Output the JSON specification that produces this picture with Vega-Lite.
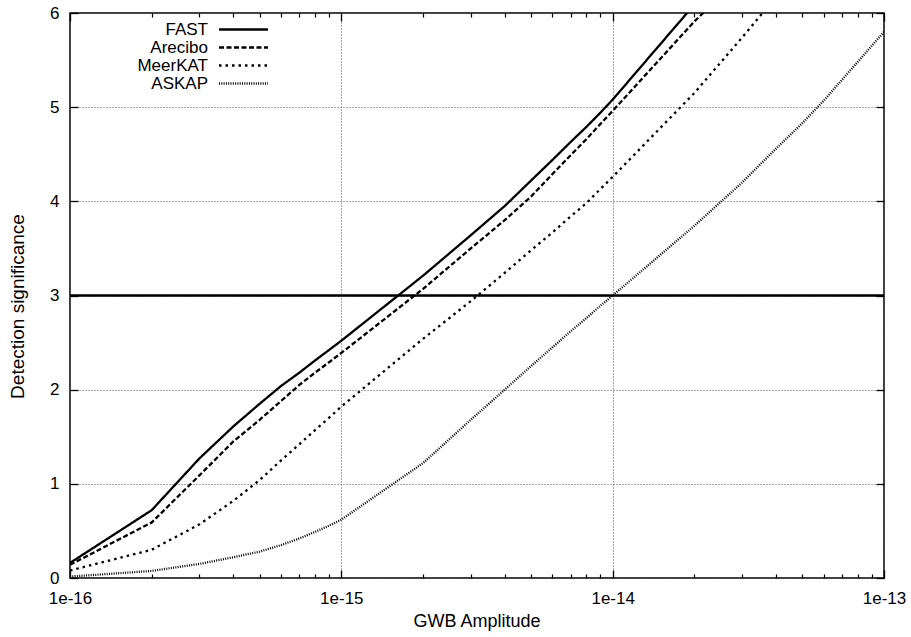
{
  "$schema": "https://vega.github.io/schema/vega-lite/v6.json",
  "width": 814,
  "height": 565,
  "autosize": {"type": "none"},
  "padding": {"left": 70, "top": 13, "right": 27, "bottom": 59},
  "config": {
    "font": "Liberation Sans",
    "view": {"stroke": "black", "strokeWidth": 1.5},
    "axis": {"labelColor": "black", "tickColor": "black", "titleColor": "black", "titleFontWeight": "normal", "labelFont": "Liberation Sans", "titleFont": "Liberation Sans"}
  },
  "datasets": {
    "c": [
      {"a": 1e-16, "sig": 0.16, "s": "FAST"},
      {"a": 2e-16, "sig": 0.72, "s": "FAST"},
      {"a": 3e-16, "sig": 1.27, "s": "FAST"},
      {"a": 4e-16, "sig": 1.61, "s": "FAST"},
      {"a": 5e-16, "sig": 1.85, "s": "FAST"},
      {"a": 6e-16, "sig": 2.04, "s": "FAST"},
      {"a": 7e-16, "sig": 2.18, "s": "FAST"},
      {"a": 8e-16, "sig": 2.31, "s": "FAST"},
      {"a": 9e-16, "sig": 2.42, "s": "FAST"},
      {"a": 1e-15, "sig": 2.52, "s": "FAST"},
      {"a": 2e-15, "sig": 3.21, "s": "FAST"},
      {"a": 3e-15, "sig": 3.64, "s": "FAST"},
      {"a": 4e-15, "sig": 3.95, "s": "FAST"},
      {"a": 5e-15, "sig": 4.22, "s": "FAST"},
      {"a": 6e-15, "sig": 4.44, "s": "FAST"},
      {"a": 7e-15, "sig": 4.63, "s": "FAST"},
      {"a": 8e-15, "sig": 4.79, "s": "FAST"},
      {"a": 9e-15, "sig": 4.94, "s": "FAST"},
      {"a": 1e-14, "sig": 5.08, "s": "FAST"},
      {"a": 2e-14, "sig": 6.09, "s": "FAST"},
      {"a": 1e-16, "sig": 0.14, "s": "Arecibo"},
      {"a": 2e-16, "sig": 0.59, "s": "Arecibo"},
      {"a": 3e-16, "sig": 1.09, "s": "Arecibo"},
      {"a": 4e-16, "sig": 1.45, "s": "Arecibo"},
      {"a": 5e-16, "sig": 1.68, "s": "Arecibo"},
      {"a": 6e-16, "sig": 1.88, "s": "Arecibo"},
      {"a": 7e-16, "sig": 2.05, "s": "Arecibo"},
      {"a": 8e-16, "sig": 2.18, "s": "Arecibo"},
      {"a": 9e-16, "sig": 2.29, "s": "Arecibo"},
      {"a": 1e-15, "sig": 2.39, "s": "Arecibo"},
      {"a": 2e-15, "sig": 3.07, "s": "Arecibo"},
      {"a": 3e-15, "sig": 3.5, "s": "Arecibo"},
      {"a": 4e-15, "sig": 3.8, "s": "Arecibo"},
      {"a": 5e-15, "sig": 4.05, "s": "Arecibo"},
      {"a": 6e-15, "sig": 4.29, "s": "Arecibo"},
      {"a": 7e-15, "sig": 4.49, "s": "Arecibo"},
      {"a": 8e-15, "sig": 4.66, "s": "Arecibo"},
      {"a": 9e-15, "sig": 4.82, "s": "Arecibo"},
      {"a": 1e-14, "sig": 4.96, "s": "Arecibo"},
      {"a": 2e-14, "sig": 5.91, "s": "Arecibo"},
      {"a": 3e-14, "sig": 6.4, "s": "Arecibo"},
      {"a": 1e-16, "sig": 0.08, "s": "MeerKAT"},
      {"a": 2e-16, "sig": 0.3, "s": "MeerKAT"},
      {"a": 3e-16, "sig": 0.57, "s": "MeerKAT"},
      {"a": 4e-16, "sig": 0.82, "s": "MeerKAT"},
      {"a": 5e-16, "sig": 1.04, "s": "MeerKAT"},
      {"a": 6e-16, "sig": 1.25, "s": "MeerKAT"},
      {"a": 7e-16, "sig": 1.42, "s": "MeerKAT"},
      {"a": 8e-16, "sig": 1.57, "s": "MeerKAT"},
      {"a": 9e-16, "sig": 1.7, "s": "MeerKAT"},
      {"a": 1e-15, "sig": 1.82, "s": "MeerKAT"},
      {"a": 2e-15, "sig": 2.54, "s": "MeerKAT"},
      {"a": 3e-15, "sig": 2.94, "s": "MeerKAT"},
      {"a": 4e-15, "sig": 3.24, "s": "MeerKAT"},
      {"a": 5e-15, "sig": 3.48, "s": "MeerKAT"},
      {"a": 6e-15, "sig": 3.67, "s": "MeerKAT"},
      {"a": 7e-15, "sig": 3.84, "s": "MeerKAT"},
      {"a": 8e-15, "sig": 3.98, "s": "MeerKAT"},
      {"a": 9e-15, "sig": 4.13, "s": "MeerKAT"},
      {"a": 1e-14, "sig": 4.26, "s": "MeerKAT"},
      {"a": 2e-14, "sig": 5.15, "s": "MeerKAT"},
      {"a": 3e-14, "sig": 5.74, "s": "MeerKAT"},
      {"a": 4e-14, "sig": 6.17, "s": "MeerKAT"},
      {"a": 1e-16, "sig": 0.015, "s": "ASKAP"},
      {"a": 2e-16, "sig": 0.075, "s": "ASKAP"},
      {"a": 3e-16, "sig": 0.15, "s": "ASKAP"},
      {"a": 4e-16, "sig": 0.22, "s": "ASKAP"},
      {"a": 5e-16, "sig": 0.28, "s": "ASKAP"},
      {"a": 6e-16, "sig": 0.35, "s": "ASKAP"},
      {"a": 7e-16, "sig": 0.42, "s": "ASKAP"},
      {"a": 8e-16, "sig": 0.49, "s": "ASKAP"},
      {"a": 9e-16, "sig": 0.555, "s": "ASKAP"},
      {"a": 1e-15, "sig": 0.62, "s": "ASKAP"},
      {"a": 2e-15, "sig": 1.22, "s": "ASKAP"},
      {"a": 3e-15, "sig": 1.68, "s": "ASKAP"},
      {"a": 4e-15, "sig": 2.0, "s": "ASKAP"},
      {"a": 5e-15, "sig": 2.25, "s": "ASKAP"},
      {"a": 6e-15, "sig": 2.45, "s": "ASKAP"},
      {"a": 7e-15, "sig": 2.62, "s": "ASKAP"},
      {"a": 8e-15, "sig": 2.76, "s": "ASKAP"},
      {"a": 9e-15, "sig": 2.89, "s": "ASKAP"},
      {"a": 1e-14, "sig": 3.0, "s": "ASKAP"},
      {"a": 2e-14, "sig": 3.74, "s": "ASKAP"},
      {"a": 3e-14, "sig": 4.2, "s": "ASKAP"},
      {"a": 4e-14, "sig": 4.56, "s": "ASKAP"},
      {"a": 5e-14, "sig": 4.83, "s": "ASKAP"},
      {"a": 6e-14, "sig": 5.07, "s": "ASKAP"},
      {"a": 7e-14, "sig": 5.29, "s": "ASKAP"},
      {"a": 8e-14, "sig": 5.48, "s": "ASKAP"},
      {"a": 9e-14, "sig": 5.65, "s": "ASKAP"},
      {"a": 1e-13, "sig": 5.8, "s": "ASKAP"}
    ],
    "thr": [{"level": 3}]
  },
  "layer": [
    {
      "data": {"name": "c"},
      "mark": {"type": "line", "clip": true, "color": "black", "strokeWidth": 2.3},
      "encoding": {
        "x": {
          "field": "a", "type": "quantitative",
          "scale": {"type": "log", "domain": [1e-16, 1e-13], "nice": false},
          "axis": {
            "orient": "bottom",
            "values": [1e-16, 1e-15, 1e-14, 1e-13],
            "labelExpr": "'1e' + round(log(datum.value)/LN10)",
            "grid": true, "gridColor": "#555", "gridDash": [1, 2], "gridWidth": 1,
            "ticks": false, "domain": false,
            "labelPadding": 12, "labelFontSize": 17, "labelFlush": false, "labelBound": false, "labelOverlap": false,
            "title": "GWB Amplitude", "titleFontSize": 18, "titleX": 406.5, "titleY": 43, "titleBaseline": "middle", "titleAlign": "center"
          }
        },
        "y": {
          "field": "sig", "type": "quantitative",
          "scale": {"domain": [0, 6], "nice": false, "zero": false},
          "axis": {
            "orient": "left",
            "values": [0, 1, 2, 3, 4, 5, 6],
            "format": "d",
            "grid": true, "gridColor": "#555", "gridDash": [1, 2], "gridWidth": 1,
            "ticks": false, "domain": false,
            "labelPadding": 11, "labelFontSize": 17, "labelFlush": false, "labelBound": false, "labelOverlap": false,
            "title": "Detection significance", "titleFontSize": 19, "titleX": -53, "titleY": 293, "titleBaseline": "middle", "titleAlign": "center", "titleAngle": 270
          }
        },
        "strokeDash": {
          "field": "s", "type": "nominal",
          "scale": {"domain": ["FAST", "Arecibo", "MeerKAT", "ASKAP"], "range": [[1, 0], [5, 2.5], [2.5, 4], [1, 1.3]]},
          "legend": {
            "orient": "none", "legendX": 165, "legendY": 8,
            "title": null, "padding": 0, "rowPadding": 0,
            "symbolType": "M-5,0L5,0", "symbolSize": 96, "symbolStrokeWidth": 2.3, "symbolStrokeColor": "black",
            "labelAlign": "right", "labelOffset": -44, "labelFontSize": 17, "labelFont": "Liberation Sans", "labelColor": "black", "labelLimit": 0
          }
        }
      }
    },
    {
      "data": {"name": "c"},
      "mark": {"type": "point", "opacity": 0},
      "encoding": {
        "x": {
          "field": "a", "type": "quantitative",
          "scale": {"type": "log", "domain": [1e-16, 1e-13], "nice": false},
          "axis": {"orient": "bottom", "offset": -8, "values": [1e-16, 1e-15, 1e-14, 1e-13], "labels": false, "grid": false, "domain": false, "tickSize": 8, "tickWidth": 1.3, "title": null}
        },
        "y": {
          "field": "sig", "type": "quantitative",
          "scale": {"domain": [0, 6], "nice": false, "zero": false},
          "axis": {"orient": "left", "offset": -8, "values": [0, 1, 2, 3, 4, 5, 6], "labels": false, "grid": false, "domain": false, "tickSize": 8, "tickWidth": 1.3, "title": null}
        }
      }
    },
    {
      "data": {"name": "c"},
      "mark": {"type": "point", "opacity": 0},
      "encoding": {
        "x": {
          "field": "a", "type": "quantitative",
          "scale": {"type": "log", "domain": [1e-16, 1e-13], "nice": false},
          "axis": {"orient": "top", "offset": -8, "values": [1e-16, 1e-15, 1e-14, 1e-13], "labels": false, "grid": false, "domain": false, "tickSize": 8, "tickWidth": 1.3, "title": null}
        },
        "y": {
          "field": "sig", "type": "quantitative",
          "scale": {"domain": [0, 6], "nice": false, "zero": false},
          "axis": {"orient": "right", "offset": -8, "values": [0, 1, 2, 3, 4, 5, 6], "labels": false, "grid": false, "domain": false, "tickSize": 8, "tickWidth": 1.3, "title": null}
        }
      }
    },
    {
      "data": {"name": "c"},
      "mark": {"type": "point", "opacity": 0},
      "encoding": {
        "x": {
          "field": "a", "type": "quantitative",
          "scale": {"type": "log", "domain": [1e-16, 1e-13], "nice": false},
          "axis": {"orient": "bottom", "offset": -4, "values": [2e-16, 3e-16, 4e-16, 5e-16, 6e-16, 7e-16, 8e-16, 9e-16, 2e-15, 3e-15, 4e-15, 5e-15, 6e-15, 7e-15, 8e-15, 9e-15, 2e-14, 3e-14, 4e-14, 5e-14, 6e-14, 7e-14, 8e-14, 9e-14], "labels": false, "grid": false, "domain": false, "tickSize": 4, "tickWidth": 1.2, "title": null}
        },
        "y": {"field": "sig", "type": "quantitative", "scale": {"domain": [0, 6], "nice": false, "zero": false}, "axis": null}
      }
    },
    {
      "data": {"name": "c"},
      "mark": {"type": "point", "opacity": 0},
      "encoding": {
        "x": {
          "field": "a", "type": "quantitative",
          "scale": {"type": "log", "domain": [1e-16, 1e-13], "nice": false},
          "axis": {"orient": "top", "offset": -4, "values": [2e-16, 3e-16, 4e-16, 5e-16, 6e-16, 7e-16, 8e-16, 9e-16, 2e-15, 3e-15, 4e-15, 5e-15, 6e-15, 7e-15, 8e-15, 9e-15, 2e-14, 3e-14, 4e-14, 5e-14, 6e-14, 7e-14, 8e-14, 9e-14], "labels": false, "grid": false, "domain": false, "tickSize": 4, "tickWidth": 1.2, "title": null}
        },
        "y": {"field": "sig", "type": "quantitative", "scale": {"domain": [0, 6], "nice": false, "zero": false}, "axis": null}
      }
    },
    {
      "data": {"name": "thr"},
      "mark": {"type": "rule", "color": "black", "strokeWidth": 2.3},
      "encoding": {
        "y": {"field": "level", "type": "quantitative", "scale": {"domain": [0, 6], "nice": false, "zero": false}, "axis": null}
      }
    }
  ],
  "resolve": {"axis": {"x": "independent", "y": "independent"}}
}
